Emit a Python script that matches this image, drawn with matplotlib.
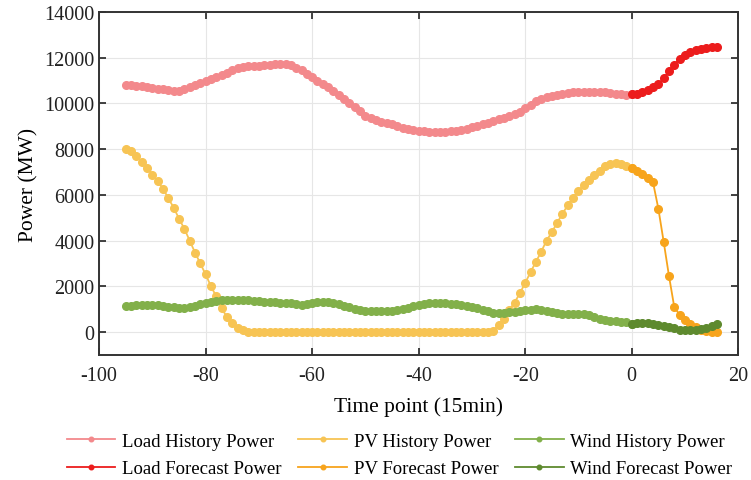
"""
Load / PV / Wind power: history and forecast
"""

import numpy as np
import matplotlib
matplotlib.use('Agg')
import matplotlib.pyplot as plt

plt.rcParams['font.family'] = ['Liberation Serif', 'DejaVu Serif']
plt.rcParams['axes.unicode_minus'] = False

# time points
t_hist = list(range(-95, 1))
t_fore = list(range(0, 17))

load_hist = [
    10800, 10800, 10780, 10750, 10720, 10680, 10650, 10610, 10570, 10550,
    10560, 10620, 10700, 10790, 10880, 10960, 11050, 11150, 11250, 11350,
    11450, 11550, 11610, 11640, 11650, 11650, 11660, 11680, 11720, 11740,
    11720, 11660, 11570, 11450, 11300, 11140, 11000, 10850, 10700, 10540,
    10380, 10200, 10020, 9840, 9650, 9470, 9360, 9280, 9210, 9150,
    9080, 9000, 8940, 8880, 8830, 8800, 8780, 8760, 8750, 8750,
    8760, 8780, 8810, 8850, 8900, 8950, 9010, 9080, 9150, 9230,
    9300, 9370, 9450, 9540, 9640, 9780, 9950, 10100, 10200, 10280,
    10340, 10390, 10420, 10450, 10480, 10500, 10510, 10520, 10520, 10520,
    10500, 10460, 10420, 10400, 10390, 10400,
]
load_fore = [10400, 10430, 10500, 10580, 10700, 10850, 11100, 11400, 11700,
             11950, 12120, 12250, 12340, 12400, 12440, 12460, 12470]

pv_hist = [
    8000, 7900, 7700, 7450, 7190, 6890, 6590, 6270, 5850, 5440,
    4960, 4520, 4000, 3480, 3000, 2520, 2000, 1560, 1050, 650,
    380, 200, 80, 20,
    0, 0, 0, 0, 0, 0, 0, 0, 0, 0, 0, 0, 0, 0, 0,
    0, 0, 0, 0, 0, 0, 0, 0, 0, 0, 0, 0, 0, 0, 0,
    0, 0, 0, 0, 0, 0, 0, 0, 0, 0, 0, 0, 0, 0, 0,
    60, 300, 590, 960, 1290, 1700, 2150, 2620, 3070, 3510,
    4000, 4370, 4780, 5180, 5550, 5880, 6180, 6440, 6660, 6860,
    7060, 7260, 7360, 7400, 7360, 7280, 7180,
]
pv_fore = [7180, 7050, 6900, 6750, 6550, 5400, 3950, 2450, 1080,
           760, 520, 360, 220, 100, 40, 10, 0]

wind_hist = [
    1150, 1160, 1170, 1180, 1190, 1200, 1190, 1160, 1110, 1080,
    1060, 1070, 1100, 1150, 1210, 1270, 1320, 1360, 1390, 1400,
    1410, 1410, 1400, 1390, 1370, 1340, 1330, 1320, 1300, 1290,
    1270, 1250, 1220, 1200, 1220, 1260, 1300, 1330, 1320, 1280,
    1220, 1150, 1080, 1010, 960, 930, 920, 910, 910, 920,
    930, 960, 1000, 1060, 1120, 1180, 1230, 1260, 1270, 1270,
    1260, 1240, 1220, 1190, 1150, 1100, 1040, 970, 900, 850,
    830, 840, 860, 880, 920, 950, 980, 990, 970, 930,
    880, 840, 810, 800, 800, 800, 790, 740, 660, 590,
    540, 500, 470, 450, 420, 370,
]
wind_fore = [370, 390, 400, 390, 360, 330, 280, 220, 160,
             110, 90, 80, 100, 140, 200, 270, 350]

series = [
    (t_hist, load_hist, '#F3898C', 'Load History Power'),
    (t_fore, load_fore, '#EC1C1C', 'Load Forecast Power'),
    (t_hist, pv_hist, '#F7C454', 'PV History Power'),
    (t_fore, pv_fore, '#F7A41C', 'PV Forecast Power'),
    (t_hist, wind_hist, '#82B04A', 'Wind History Power'),
    (t_fore, wind_fore, '#5E8A2E', 'Wind Forecast Power'),
]

fig = plt.figure(figsize=(7.51, 4.81), dpi=100)
ax = fig.add_axes([0.132, 0.260, 0.851, 0.713])

for x, y, c, name in series:
    ax.plot(x, y, color=c, marker='o', markersize=5.5, linewidth=1.3, label=name)

ax.set_xlim(-100, 20)
ax.set_ylim(-1000, 14000)
ax.set_xticks(np.arange(-100, 21, 20))
ax.set_yticks(np.arange(0, 14001, 2000))
ax.tick_params(direction='in', top=True, right=True, labelsize=14.5, length=5,
               width=1.2, colors='#222222')
ax.tick_params(axis='x', pad=8)
for s in ax.spines.values():
    s.set_color('#333333')
    s.set_linewidth(1.4)
ax.grid(True, color='#E6E6E6', linewidth=0.8)
ax.set_xlabel('Time point (15min)', fontsize=15.5, labelpad=8)
ax.set_ylabel('Power (MW)', fontsize=15.5, labelpad=4)

ax.legend(loc='upper center', bbox_to_anchor=(0.47, -0.178), ncol=3, frameon=False,
          fontsize=13.5, handlelength=2.6, columnspacing=0.9, labelspacing=0.55,
          handletextpad=0.35, markerscale=0.6)

fig.savefig('out.png', dpi=100)
